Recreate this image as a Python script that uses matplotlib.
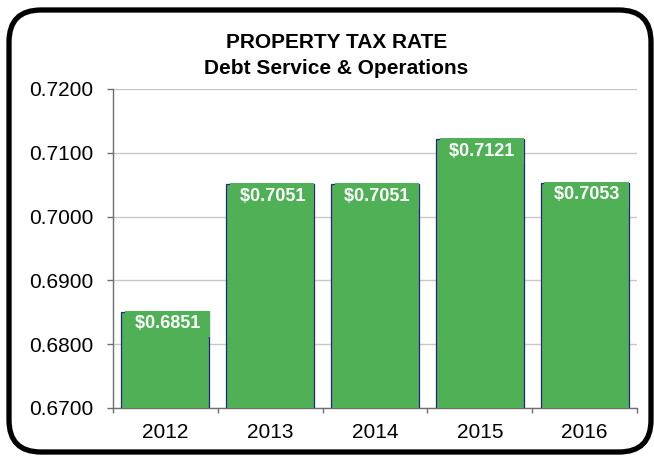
import matplotlib
matplotlib.use("Agg")
import matplotlib.pyplot as plt
from matplotlib.patches import FancyBboxPatch
from matplotlib.ticker import FixedLocator, FormatStrFormatter
import numpy as np

years = ["2012", "2013", "2014", "2015", "2016"]
tax_rates = [0.6851, 0.7051, 0.7051, 0.7121, 0.7053]
y_ticks = [0.6700, 0.6800, 0.6900, 0.7000, 0.7100, 0.7200]

plt.rcParams["font.family"] = ["Liberation Sans", "DejaVu Sans"]

BAR_GREEN = "#50B055"
EDGE_BLUE = "#23238A"

fig = plt.figure(figsize=(6.54, 4.58), dpi=100)
fig.patch.set_facecolor("white")
ax = fig.add_axes([0.1728, 0.1092, 0.8012, 0.6965])

x = np.arange(len(years))
ax.bar(x, tax_rates, width=0.84, color=BAR_GREEN, edgecolor=EDGE_BLUE,
       linewidth=0.9, zorder=3)

ax.set_xlim(-0.5, len(years) - 0.5)
ax.set_ylim(y_ticks[0], y_ticks[-1])
ax.set_yticks(y_ticks)
ax.yaxis.set_major_formatter(FormatStrFormatter("%.4f"))
ax.set_xticks(x)
ax.set_xticklabels(years)
ax.xaxis.set_minor_locator(FixedLocator(np.arange(-0.5, len(years), 1.0)))

ax.grid(axis="y", color="#C8C8C8", linewidth=1.0, zorder=0)
ax.set_axisbelow(True)
for side in ("top", "right"):
    ax.spines[side].set_visible(False)
for side in ("left", "bottom"):
    ax.spines[side].set_color("#6E6E6E")
    ax.spines[side].set_linewidth(1.0)

ax.tick_params(axis="y", which="major", length=4.3, width=1.0, color="#6E6E6E",
               pad=10, labelsize=15, labelcolor="black")
ax.tick_params(axis="x", which="major", length=0, pad=11, labelsize=15,
               labelcolor="black")
ax.tick_params(axis="x", which="minor", length=3.6, width=1.0, color="#6E6E6E")

# value labels in green boxes at the top of each bar
for xi, v in zip(x, tax_rates):
    ax.annotate(f" ${v:.4f} ", xy=(xi, v), xytext=(2, -12),
                textcoords="offset pixels", ha="center", va="center",
                fontsize=13, fontweight="bold", color="white", zorder=5,
                bbox=dict(boxstyle="square,pad=0.25", facecolor=BAR_GREEN,
                          edgecolor="none"))

fig.text(0.5145, 1 - 42.5 / 458, "PROPERTY TAX RATE", ha="center",
         va="center", fontsize=15, fontweight="bold")
fig.text(0.5145, 1 - 69 / 458, "Debt Service & Operations", ha="center",
         va="center", fontsize=15, fontweight="bold")

# rounded outer frame
frame = FancyBboxPatch((0.09, 0.06), 6.42, 4.42,
                       boxstyle="round,pad=0,rounding_size=0.32",
                       transform=fig.dpi_scale_trans, facecolor="none",
                       edgecolor="black", linewidth=3.8)
fig.patches.append(frame)

fig.savefig("out.png", dpi=100, facecolor="white")
